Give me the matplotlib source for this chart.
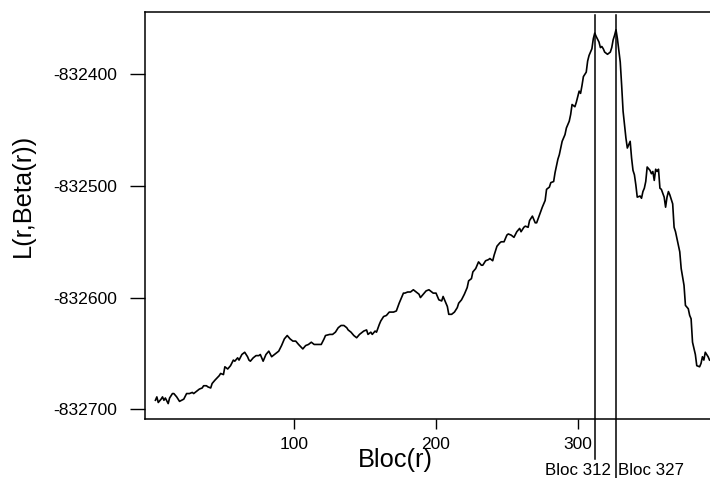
import matplotlib
matplotlib.use('Agg')
from matplotlib import pyplot as plt
import matplotlib.transforms as mtransforms

plt.rcParams['font.family'] = ['Liberation Sans', 'DejaVu Sans']

# data
bloc = [2, 3, 4, 6, 7, 8, 9, 11, 12, 14, 15, 17, 19, 22, 24, 26, 28, 29, 31, 33,
        35, 36, 38, 39, 41, 42, 44, 47, 48, 50, 51, 53, 55, 57, 58, 60, 61, 63, 65, 67,
        68, 69, 71, 73, 75, 76, 78, 80, 82, 84, 86, 89, 91, 93, 95, 97, 99, 101, 103, 106,
        108, 110, 112, 114, 117, 119, 121, 122, 125, 127, 129, 131, 133, 135, 137, 138, 140, 142, 144, 146,
        149, 151, 152, 154, 155, 157, 158, 160, 161, 163, 165, 167, 170, 172, 174, 176, 177, 178, 180, 182,
        184, 186, 188, 189, 191, 193, 195, 197, 198, 200, 202, 204, 205, 207, 208, 209, 211, 213, 215, 216,
        218, 220, 222, 223, 225, 226, 228, 230, 232, 233, 235, 237, 238, 240, 241, 243, 245, 246, 248, 250,
        251, 253, 255, 257, 259, 260, 262, 263, 265, 266, 268, 270, 271, 273, 275, 277, 278, 280, 281, 283,
        284, 286, 287, 288, 289, 291, 292, 294, 295, 296, 298, 299, 301, 302, 303, 304, 306, 307, 308, 310,
        311, 312, 313, 315, 316, 317, 318, 319, 321, 323, 324, 325, 326, 327, 328, 330, 331, 332, 333, 334,
        335, 337, 338, 339, 340, 341, 342, 344, 345, 346, 347, 348, 349, 351, 352, 353, 354, 355, 356, 357,
        358, 359, 361, 362, 363, 364, 365, 367, 368, 369, 371, 372, 373, 375, 376, 378, 379, 380, 381, 383,
        384, 386, 387, 388, 389, 390, 392, 393]
loglik = [-832692, -832689, -832694, -832691, -832689, -832692, -832690, -832695, -832690, -832686,
          -832686, -832689, -832693, -832691, -832686, -832686, -832685, -832686, -832684, -832682,
          -832681, -832679, -832679, -832680, -832681, -832677, -832674, -832670, -832668, -832669,
          -832662, -832664, -832661, -832656, -832657, -832654, -832656, -832651, -832649, -832653,
          -832656, -832657, -832654, -832652, -832652, -832651, -832657, -832651, -832648, -832653,
          -832651, -832648, -832643, -832637, -832634, -832637, -832639, -832639, -832642, -832646,
          -832643, -832642, -832640, -832642, -832642, -832642, -832637, -832634, -832633, -832633,
          -832631, -832627, -832625, -832625, -832627, -832629, -832631, -832634, -832636, -832633,
          -832630, -832629, -832633, -832631, -832633, -832630, -832631, -832624, -832621, -832617,
          -832616, -832613, -832613, -832612, -832605, -832599, -832596, -832596, -832595, -832595,
          -832593, -832595, -832597, -832600, -832597, -832594, -832593, -832595, -832596, -832596,
          -832602, -832603, -832599, -832605, -832608, -832615, -832615, -832613, -832609, -832605,
          -832602, -832597, -832591, -832585, -832583, -832577, -832574, -832568, -832571, -832571,
          -832567, -832566, -832565, -832567, -832562, -832554, -832551, -832550, -832550, -832544,
          -832543, -832544, -832546, -832541, -832538, -832541, -832537, -832536, -832537, -832531,
          -832527, -832533, -832533, -832526, -832519, -832513, -832503, -832501, -832497, -832496,
          -832488, -832476, -832472, -832466, -832460, -832454, -832448, -832442, -832436, -832427,
          -832429, -832425, -832415, -832417, -832410, -832402, -832398, -832388, -832383, -832377,
          -832368, -832363, -832366, -832371, -832376, -832375, -832377, -832380, -832382, -832380,
          -832376, -832369, -832365, -832360, -832368, -832389, -832410, -832433, -832445, -832457,
          -832466, -832460, -832475, -832486, -832490, -832499, -832510, -832509, -832511, -832505,
          -832502, -832496, -832483, -832486, -832489, -832487, -832495, -832485, -832487, -832485,
          -832502, -832503, -832510, -832519, -832510, -832505, -832508, -832516, -832537, -832541,
          -832553, -832559, -832574, -832589, -832607, -832610, -832616, -832619, -832640, -832651,
          -832661, -832662, -832659, -832653, -832656, -832649, -832653, -832656]

marked_blocs = [312, 327]
marked_labels = ['Bloc 312', 'Bloc 327']
x_ticks = [100, 200, 300]
y_ticks = [-832400, -832500, -832600, -832700]
y_tick_labels = ['-832400', '-832500', '-832600', '-832700']

W, H = 710, 478
fig = plt.figure(figsize=(W / 100, H / 100), dpi=100)
# plot region runs past the right edge of the picture, like the original crop
ax = fig.add_axes([145 / W, (H - 419) / H, (740.7 - 145) / W, (419 - 12) / H])

ax.plot(bloc, loglik, color='black', lw=1.2)

ax.set_xlim(-5.36, 415)
ax.set_ylim(-832708.8, -832344.1)

ax.set_xticks(x_ticks)
ax.set_xticklabels([str(t) for t in x_ticks])
ax.set_yticks(y_ticks)
ax.set_yticklabels(y_tick_labels)
ax.tick_params(axis='x', direction='out', length=7.2, width=1.0, pad=5.5, labelsize=12.5)
ax.tick_params(axis='y', direction='out', length=10.8, width=1.0, pad=9.4, labelsize=12.6)

for side in ['left', 'bottom', 'top']:
    ax.spines[side].set_linewidth(1.1)
ax.spines['right'].set_visible(False)

# vertical marker lines, drawn past the bottom of the plot region
trans = mtransforms.blended_transform_factory(ax.transData, ax.transAxes)
ax.plot([marked_blocs[0]] * 2, [0.9926, -0.098], color='black', lw=1.1,
        transform=trans, clip_on=False)
ax.plot([marked_blocs[1]] * 2, [0.9926, -0.16], color='black', lw=1.1,
        transform=trans, clip_on=False)

fig.text(578 / W, (H - 475) / H, marked_labels[0], ha='center', va='baseline', fontsize=12.2)
fig.text(651 / W, (H - 475) / H, marked_labels[1], ha='center', va='baseline', fontsize=12.2)

fig.text(395.5 / W, (H - 467) / H, 'Bloc(r)', ha='center', va='baseline', fontsize=18.3)
fig.text(23 / W, (H - 195) / H, 'L(r,Beta(r))', ha='center', va='center',
         rotation=90, fontsize=18.3)

fig.savefig('out.png', dpi=100)
